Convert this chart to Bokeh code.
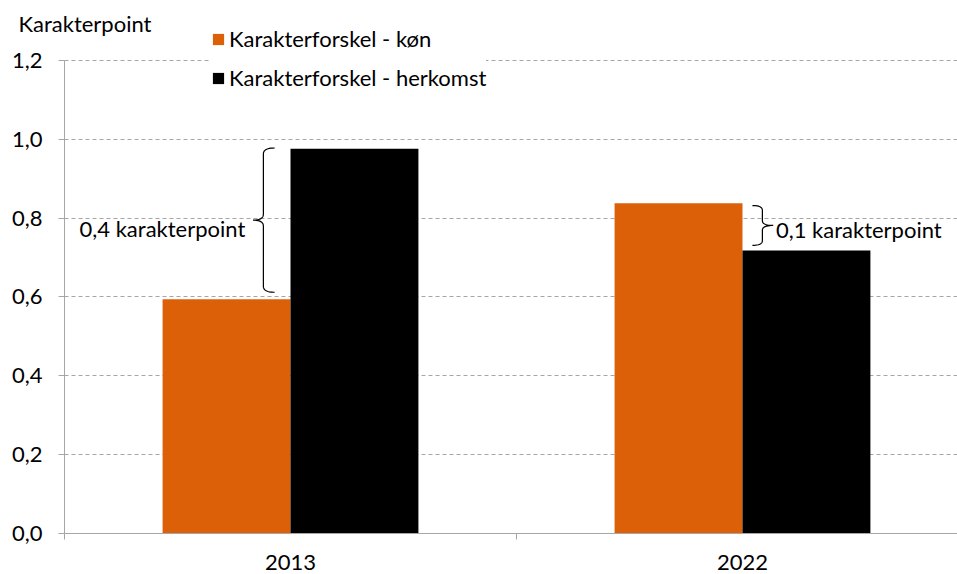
import numpy as np
from bokeh.plotting import figure
from bokeh.models import (Range1d, FixedTicker, Legend, LegendItem, Label, ColumnDataSource)
from bokeh.core.properties import value
from bokeh.embed import file_html
from bokeh.resources import INLINE

# ---- data ----
years = ["2013", "2022"]
kon = [0.594, 0.838]          # Karakterforskel - køn
herkomst = [0.976, 0.718]     # Karakterforskel - herkomst
gap_labels = ["0,4 karakterpoint", "0,1 karakterpoint"]
y_ticks = [0.0, 0.2, 0.4, 0.6, 0.8, 1.0, 1.2]
y_tick_labels = ["0,0", "0,2", "0,4", "0,6", "0,8", "1,0", "1,2"]
series_names = ["Karakterforskel - køn", "Karakterforskel - herkomst"]
y_title = "Karakterpoint"

ORANGE = "#DC6008"
BLACK = "#000000"
GRID = "#A6A6A6"
FONT = "Lato"
FS = "22px"

centers = np.arange(len(years)) + 0.5
bw = 0.283
XMAX = 1.9757
YMAX = 1.2

p = figure(width=957, height=574, output_backend="svg", toolbar_location=None,
           x_range=Range1d(-0.1416, XMAX), y_range=Range1d(-0.104, 1.3522),
           min_border_left=0, min_border_right=0, min_border_top=0,
           min_border_bottom=0)
p.outline_line_color = None
p.background_fill_color = "white"
p.border_fill_color = "white"

src = ColumnDataSource(dict(xk=centers - bw / 2, xh=centers + bw / 2, kon=kon, herkomst=herkomst))
r1 = p.vbar(x="xk", top="kon", bottom=0, width=bw, source=src, fill_color=ORANGE, line_color=None)
r2 = p.vbar(x="xh", top="herkomst", bottom=0, width=bw, source=src, fill_color=BLACK, line_color=None)

# x axis drawn at y = 0
xax = p.xaxis[0]
xax.fixed_location = 0
xax.ticker = FixedTicker(ticks=list(centers), minor_ticks=[0.0, 1.0, 2.0])
xax.major_label_overrides = {float(c): y for c, y in zip(centers, years)}
xax.bounds = (0, XMAX)
xax.major_tick_line_color = None
xax.major_tick_in = 0
xax.major_tick_out = 0
xax.minor_tick_in = 0
xax.minor_tick_out = 6
xax.minor_tick_line_color = GRID
xax.axis_line_color = GRID
xax.major_label_standoff = 15
xax.major_label_text_font = FONT
xax.major_label_text_font_size = FS
xax.major_label_text_color = "black"

# y axis drawn at x = 0 (start of the category axis)
yax = p.yaxis[0]
yax.fixed_location = 0
yax.bounds = (0, YMAX)
yax.ticker = FixedTicker(ticks=y_ticks)
yax.major_label_overrides = {t: l for t, l in zip(y_ticks, y_tick_labels)}
yax.major_tick_in = 0
yax.major_tick_out = 6
yax.major_tick_line_color = GRID
yax.minor_tick_line_color = None
yax.axis_line_color = GRID
yax.major_label_standoff = 16
yax.major_label_text_font = FONT
yax.major_label_text_font_size = FS
yax.major_label_text_color = "black"

p.xgrid.grid_line_color = None
p.ygrid.ticker = FixedTicker(ticks=y_ticks[1:])
p.ygrid.grid_line_color = GRID
p.ygrid.grid_line_dash = "4 3"
p.ygrid.grid_line_width = 1
p.ygrid.bounds = (0, YMAX)
p.ygrid.cross_bounds = (0, XMAX)


def brace(xv, xtip, xend, ytop, ybot, r):
    ymid = (ytop + ybot) / 2
    t = np.linspace(0, 1, 12)

    def q(p0, c, p1):
        return ((1 - t) ** 2 * p0[0] + 2 * (1 - t) * t * c[0] + t ** 2 * p1[0],
                (1 - t) ** 2 * p0[1] + 2 * (1 - t) * t * c[1] + t ** 2 * p1[1])
    segs = [q((xend, ytop), (xv, ytop), (xv, ytop - r)),
            q((xv, ymid + r), (xv, ymid), (xtip, ymid)),
            q((xtip, ymid), (xv, ymid), (xv, ymid - r)),
            q((xv, ybot + r), (xv, ybot), (xend, ybot))]
    xs = np.concatenate([s[0] for s in segs])
    ys = np.concatenate([s[1] for s in segs])
    return xs, ys, ymid


# brace 2013 (tip pointing left)
c0 = centers[0]
xs, ys, ym0 = brace(c0 - 0.060, c0 - 0.083, c0 - 0.035, herkomst[0] + 0.002, kon[0] + 0.018, 0.015)
p.line(xs, ys, line_color="black", line_width=1.2)
p.text(x=[c0 - 0.100], y=[ym0 - 0.021], text=[gap_labels[0]],
       text_align="right", text_baseline="middle", text_font=value(FONT),
       text_font_size=FS, text_color="black")

# brace 2022 (tip pointing right)
c1 = centers[1]
xs, ys, ym1 = brace(c1 + 0.044, c1 + 0.068, c1 + 0.022, kon[1] - 0.006, herkomst[1] + 0.013, 0.012)
p.line(xs, ys, line_color="black", line_width=1.2)
p.text(x=[c1 + 0.074], y=[ym1 - 0.010], text=[gap_labels[1]],
       text_align="left", text_baseline="middle", text_font=value(FONT),
       text_font_size=FS, text_color="black")

# y-axis title
p.add_layout(Label(x=18, y=551, x_units="screen", y_units="screen", text=y_title,
                   text_baseline="middle", text_font=FONT, text_font_size=FS,
                   text_color="black"))

legend = Legend(items=[LegendItem(label=series_names[0], renderers=[r1]),
                       LegendItem(label=series_names[1], renderers=[r2])],
                location=(211, 483), orientation="vertical",
                glyph_width=14, glyph_height=14, label_standoff=4,
                label_text_font=FONT, label_text_font_size=FS, label_text_color="black",
                spacing=12, padding=28, margin=0,
                border_line_color=None, background_fill_color="white",
                background_fill_alpha=1.0)
p.add_layout(legend)

open("out.html", "w").write(file_html(p, INLINE))
